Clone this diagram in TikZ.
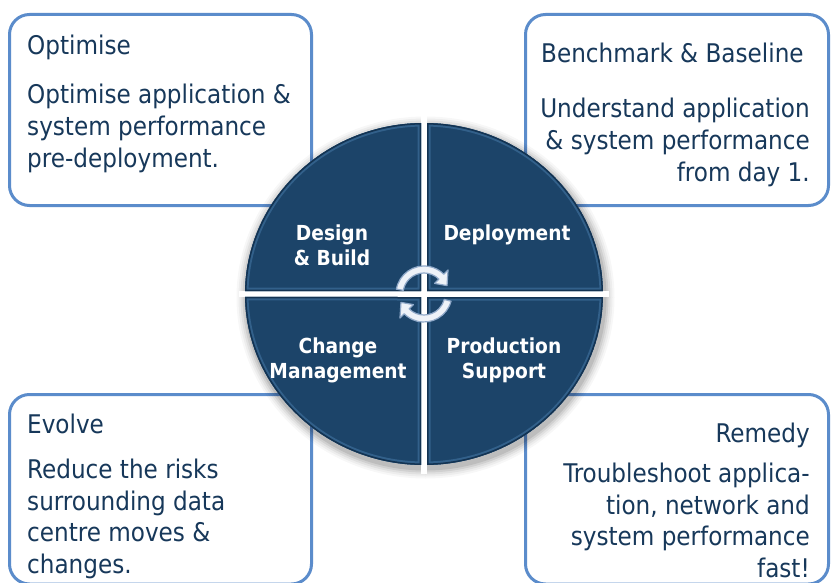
\documentclass[tikz,border=0pt]{standalone}
\usepackage{fontspec}
\setmainfont{DejaVu Sans Condensed}
\definecolor{boxline}{HTML}{5B8CCB}
\definecolor{txtnavy}{HTML}{17385A}
\definecolor{quadbase}{HTML}{1C4469}
\definecolor{quadlight}{HTML}{32608A}
\definecolor{quaddark}{HTML}{133352}
\definecolor{arrline}{HTML}{8FA8C8}
\definecolor{arrfill}{HTML}{EEF2F8}
\tikzset{
  infobox/.style={draw=boxline, line width=3pt, rounded corners=20pt, fill=white},
  boxtext/.style={inner sep=0pt, text=txtnavy, font=\fontsize{25.7}{31.5}\selectfont},
  quadtext/.style={inner sep=0pt, text=white, align=center, font=\bfseries\fontsize{20.7}{25}\selectfont},
  cyclearrow/.style={draw=arrline, fill=arrfill, line width=1.2pt, line join=round}
}
\begin{document}
\begin{tikzpicture}[x=1pt,y=-1pt]
\useasboundingbox (0,0) rectangle (835,583);
\clip (0,0) rectangle (835,583);
\fill[white] (0,0) rectangle (835,583);
% boxes
\draw[infobox] (9.5,14.5) rectangle (311.5,205.5);
\draw[infobox] (525.5,14.5) rectangle (828.5,205.5);
\draw[infobox] (9.5,394.5) rectangle (311.5,584);
\draw[infobox] (525.5,394.5) rectangle (828.5,584);
% box texts (multi-line nodes: base = last line)
\node[boxtext, anchor=base west] (t1) at (27,55) {Optimise};
\node[boxtext, anchor=base west, align=left] (b1) at (27,167) {Optimise application \&\\system performance\\pre-deployment.};
\node[boxtext, anchor=base west] (t2) at (541,63) {Benchmark \& Baseline};
\node[boxtext, anchor=base east, align=right] (b2) at (810,181) {Understand application\\\& system performance\\from day 1.};
\node[boxtext, anchor=base west] (t3) at (27,433) {Evolve};
\node[boxtext, anchor=base west, align=left] (b3) at (27,573) {Reduce the risks\\surrounding data\\centre moves \&\\changes.};
\node[boxtext, anchor=base east] (t4) at (810,442) {Remedy};
\node[boxtext, anchor=base east, align=right] (b4) at (810,577) {Troubleshoot applica-\\tion, network and\\system performance\\fast!};
% circle
\begin{scope}[shift={(424,294)}]
  \foreach \k/\o in {10/0.03,8/0.04,6/0.05,4/0.07,2/0.09}{
    \fill[black, opacity=\o] (1.5,3.5) ellipse [x radius=179+\k, y radius=171+\k];
  }
  \fill[white] (-3,-180) rectangle (3,180);
  \fill[white] (-185,-3) rectangle (185,3);
  \foreach \c/\sa/\ea in {{(-3,-3)}/269.04/181.0, {(3,-3)}/359.0/270.96, {(3,3)}/1.005/89.04, {(-3,3)}/90.96/179.0}{
    \begin{scope}
      \clip \c -- (\sa:179 and 171) arc[start angle=\sa, end angle=\ea, x radius=179, y radius=171] -- cycle;
      \fill[quadbase] \c -- (\sa:179 and 171) arc[start angle=\sa, end angle=\ea, x radius=179, y radius=171] -- cycle;
      \draw[quadlight, line width=7pt] \c -- (\sa:179 and 171) arc[start angle=\sa, end angle=\ea, x radius=179, y radius=171] -- cycle;
      \draw[quaddark, line width=3pt] \c -- (\sa:179 and 171) arc[start angle=\sa, end angle=\ea, x radius=179, y radius=171] -- cycle;
    \end{scope}
  }
  % cycle arrows
  \draw[cyclearrow] (190:28) arc[start angle=190, end angle=315, radius=28] -- (315:34) -- (340:24.5) -- (315:15) -- (315:21) arc[start angle=315, end angle=190, radius=21] -- cycle;
  \draw[cyclearrow] (15:28) arc[start angle=15, end angle=135, radius=28] -- (135:34) -- (160:24.5) -- (135:15) -- (135:21) arc[start angle=135, end angle=15, radius=21] -- cycle;
\end{scope}
% quadrant labels (base = last line)
\node[quadtext, anchor=base] (q1) at (332,265) {Design\\\& Build};
\node[quadtext, anchor=base] (q2) at (507,240) {Deployment};
\node[quadtext, anchor=base] (q3) at (338,378) {Change\\Management};
\node[quadtext, anchor=base] (q4) at (504,378) {Production\\Support};
\end{tikzpicture}
\end{document}
